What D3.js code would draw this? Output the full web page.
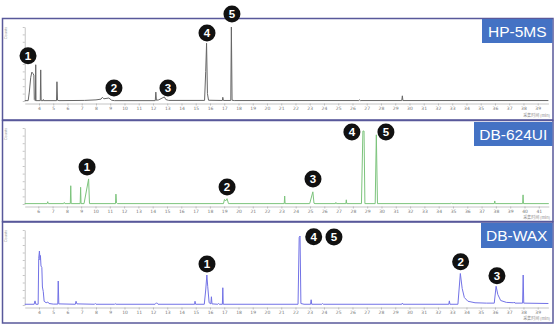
<!DOCTYPE html>
<html>
<head>
<meta charset="utf-8">
<script src="https://cdn.jsdelivr.net/npm/d3@7"></script>
<style>
body { margin: 0; background: #fff; }
svg { display: block; font-family: "Liberation Sans", Arial, sans-serif; }
.axis path, .axis line { stroke: #a0a0a0; stroke-width: 0.6; }
.axis text { fill: #777; font-size: 4.5px; font-family: "DejaVu Sans", sans-serif; }
</style>
</head>
<body>
<div id="chart"></div>
<script>
var width = 558;
var height = 328;

// column names
var columnNames = ["HP-5MS", "DB-624UI", "DB-WAX"];

// x tick labels (retention time, min)
var hp5Ticks = d3.range(4, 40);
var db624Ticks = d3.range(6, 42);
var waxTicks = d3.range(4, 40);

// traces: [retention time (min), relative counts]
var hp5Trace = [
  [3.0,0.5],[3.24,0.5],[3.32,12],[3.42,32],[3.5,39],[3.58,37],[3.64,35],[3.67,2],[3.73,0.5],
  [3.75,0.5],[3.77,49],[3.79,0.5],[4.09,0.5],[4.12,42],[4.15,0.5],[4.29,0.5],[4.31,2],[4.33,0.5],
  [5.23,0.5],[5.26,26],[5.3,1],[5.4,0.5],[7.2,0.8],[8.0,1.5],[8.35,2.5],[8.45,5],[8.55,3],
  [8.9,4],[9.1,1],[9.3,0.5],[12.16,0.5],[12.2,12],[12.24,1],[12.4,1.5],[12.7,4.5],[12.8,5.5],
  [12.9,2],[13.1,0.8],[15.62,0.8],[15.7,40],[15.76,78],[15.82,10],[15.9,1],[16.87,0.7],[16.9,5],
  [16.94,0.7],[17.46,0.7],[17.5,100],[17.55,1],[17.7,0.6],[26.45,0.6],[26.5,1.5],[26.55,0.6],
  [29.46,0.6],[29.5,7],[29.54,0.6],[39.75,0.6]
];
var db624Trace = [
  [5.05,0.5],[6.62,0.5],[6.66,3],[6.7,0.5],[7.78,0.5],[7.82,2],[7.86,0.5],[8.24,0.5],[8.27,24],
  [8.3,0.5],[8.93,0.5],[8.96,22],[8.99,0.5],[9.2,0.5],[9.52,33],[9.58,0.5],[11.4,0.5],[11.43,13],
  [11.47,1.5],[11.55,0.5],[18.95,0.5],[19.02,6],[19.1,4],[19.2,7],[19.3,0.5],[23.2,0.5],[23.23,10.5],
  [23.26,0.5],[24.98,0.5],[25.2,16],[25.28,1],[25.35,0.5],[26.78,0.5],[26.81,2],[26.84,0.5],
  [27.51,0.5],[27.54,5.5],[27.57,0.5],[28.6,0.5],[28.7,96],[28.78,96],[28.84,0.5],[29.56,0.5],
  [29.64,91],[29.72,0.5],[34.85,0.5],[34.88,1.5],[34.92,0.5],[37.89,0.5],[37.92,4],[37.95,0.5],
  [39.87,0.5],[39.9,12],[39.93,0.5],[41.7,0.5]
];
var waxTrace = [
  [3.0,1],[3.66,1],[3.72,5.5],[3.78,1],[3.94,1],[3.98,62],[4.03,72],[4.07,60],[4.1,66],[4.14,52],
  [4.2,50],[4.24,24],[4.3,18],[4.36,5],[4.5,3],[4.62,4],[4.7,2],[5.0,1.2],[5.32,1.2],[5.35,32],
  [5.39,1.5],[6.55,1],[6.6,5],[6.66,1.5],[7.9,1],[7.95,2],[8.0,1],[9.3,1],[9.35,1.8],[9.4,1],
  [12.15,1],[12.25,3],[12.35,1],[14.92,1],[14.95,5],[14.99,1],[15.6,1],[15.7,20],[15.78,40],
  [15.84,25],[15.94,3],[16.06,1.5],[16.1,11],[16.14,1.5],[16.55,1],[16.6,2],[16.65,1],[16.87,1],
  [16.9,23],[16.93,1],[22.18,1],[22.26,90],[22.32,92],[22.38,2],[22.6,1],[23.06,1],[23.1,7],
  [23.14,1],[23.85,1],[23.9,2],[23.95,1],[29.46,1],[29.5,2.5],[29.55,1],[32.76,1],[32.8,5.5],
  [32.84,1],[33.4,1],[33.57,42],[33.7,22],[33.85,10],[34.1,5],[34.6,3],[35.4,2.5],[35.95,2.5],
  [36.08,25],[36.2,14],[36.4,6],[36.8,3.5],[37.3,3],[37.35,4],[37.4,2.5],[37.94,2.5],[37.98,40],
  [38.02,2.5],[39.75,2]
];

// numbered labels: [number, retention time, counts]
var hp5Labels = [[1,3.23,61],[2,9.26,17.6],[3,13.05,17.6],[4,15.79,92],[5,17.54,117.6]];
var db624Labels = [[1,9.41,48.7],[2,19.2,22.4],[3,25.21,32.9],[4,27.93,94.7],[5,30.31,94.7]];
var waxLabels = [[1,15.79,54.7],[4,23.28,91],[5,24.7,90.7],[2,33.59,57.7],[3,36.14,39.1]];

var panels = [
  {name: columnNames[0], trace: hp5Trace, labels: hp5Labels, ticks: hp5Ticks, color: "#666",
   top: 18.5, bottom: 120, xDomain: [3.0, 39.75], xRange: [24.75, 548.4], zero: 101, yTop: 27, axisY: 103.5,
   boxX: 482, boxY: 19, boxH: 24},
  {name: columnNames[1], trace: db624Trace, labels: db624Labels, ticks: db624Ticks, color: "#7cc47c",
   top: 120.5, bottom: 221.5, xDomain: [5.05, 41.7], xRange: [24.7, 548.8], zero: 204, yTop: 128, axisY: 206.5,
   boxX: 474, boxY: 122, boxH: 24},
  {name: columnNames[2], trace: waxTrace, labels: waxLabels, ticks: waxTicks, color: "#7272e6",
   top: 222, bottom: 323, xDomain: [3.0, 39.75], xRange: [24.75, 548.4], zero: 305, yTop: 230, axisY: 307.5,
   boxX: 481, boxY: 223, boxH: 25}
];

var svg = d3.select("#chart")
  .append("svg")
  .attr("width", width)
  .attr("height", height);

panels.forEach(function(p) {
  var x = d3.scaleLinear().domain(p.xDomain).range(p.xRange);
  var y = d3.scaleLinear().domain([0, 100]).range([p.zero, p.yTop]);

  var g = svg.append("g");

  // frame
  g.append("rect")
    .attr("x", 2.5).attr("y", p.top)
    .attr("width", 550.5).attr("height", p.bottom - p.top)
    .attr("fill", "none")
    .attr("stroke", "#58589a")
    .attr("stroke-width", 1.5);

  // x axis
  g.append("g")
    .attr("class", "axis x")
    .attr("transform", "translate(0," + p.axisY + ")")
    .call(d3.axisBottom(x)
      .tickValues(p.ticks)
      .tickSize(2)
      .tickSizeOuter(0)
      .tickPadding(1.5));

  // y axis, no labels
  g.append("g")
    .attr("class", "axis y")
    .attr("transform", "translate(" + p.xRange[0] + ",0)")
    .call(d3.axisLeft(y)
      .ticks(10)
      .tickSize(2)
      .tickSizeOuter(0)
      .tickFormat(""));

  g.append("text")
    .attr("transform", "translate(7," + (p.yTop + 6) + ") rotate(-90)")
    .attr("text-anchor", "middle")
    .attr("font-size", "4px")
    .attr("fill", "#999")
    .text("Counts");

  g.append("text")
    .attr("x", 550)
    .attr("y", p.bottom - 3)
    .attr("text-anchor", "end")
    .attr("font-size", "4px")
    .attr("fill", "#888")
    .attr("font-family", "Noto Sans CJK SC, sans-serif")
    .text("采集时间 (min)");

  // chromatogram
  var line = d3.line()
    .x(function(d) { return x(d[0]); })
    .y(function(d) { return y(d[1]); });

  g.append("path")
    .attr("d", line(p.trace))
    .attr("fill", "none")
    .attr("stroke", p.color)
    .attr("stroke-width", 1)
    .attr("stroke-linejoin", "round");

  // column name box
  var box = g.append("g");
  box.append("rect")
    .attr("x", p.boxX).attr("y", p.boxY)
    .attr("width", 552.5 - p.boxX).attr("height", p.boxH)
    .attr("fill", "#4472c4");
  box.append("text")
    .attr("x", (p.boxX + 552.5) / 2)
    .attr("y", p.boxY + p.boxH / 2 + 5.5)
    .attr("text-anchor", "middle")
    .attr("font-size", "15.5px")
    .attr("fill", "#fff")
    .text(p.name);

  // numbered markers
  var mk = g.selectAll(".mk")
    .data(p.labels)
    .enter().append("g")
    .attr("transform", function(d) { return "translate(" + x(d[1]) + "," + y(d[2]) + ")"; });
  mk.append("circle")
    .attr("r", 8.5)
    .attr("fill", "#111");
  mk.append("text")
    .attr("y", 4)
    .attr("text-anchor", "middle")
    .attr("font-size", "11.5px")
    .attr("font-weight", "bold")
    .attr("fill", "#fff")
    .text(function(d) { return d[0]; });
});
</script>
</body>
</html>
